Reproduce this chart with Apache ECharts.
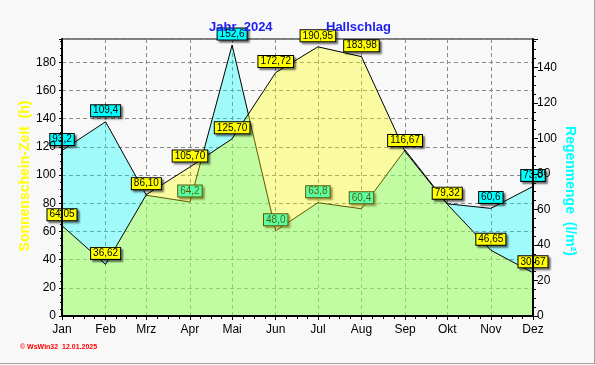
<!DOCTYPE html>
<html>
<head>
<meta charset="utf-8">
<script src="https://cdn.jsdelivr.net/npm/echarts@6/dist/echarts.min.js"></script>
<style>
  html, body { margin: 0; padding: 0; background: #f8f8f8; }
  #chart { width: 595px; height: 365px; }
</style>
</head>
<body>
<div id="chart"></div>
<script>
// ---- data ----
const months = ['2024-01-01','2024-02-01','2024-03-01','2024-04-01','2024-05-01','2024-06-01',
                '2024-07-01','2024-08-01','2024-09-01','2024-10-01','2024-11-01','2024-12-01'];
const monthLabels = ['Jan','Feb','Mrz','Apr','Mai','Jun','Jul','Aug','Sep','Okt','Nov','Dez'];
const sunshine = [64.05, 36.62, 86.10, 105.70, 125.70, 172.72, 190.95, 183.98, 116.67, 79.32, 46.65, 30.67];
const rain = [93.2, 109.4, 68.0, 64.2, 152.6, 48.0, 63.8, 60.4, 93.5, 63.2, 60.6, 73.0];
const rainLabelHidden = [2, 8, 9];
const titleLeft = 'Jahr  2024';
const titleRight = 'Hallschlag';
const leftName = 'Sonnenschein-Zeit  (h)';
const rightName = 'Regenmenge  (l/m²)';
const footer = '© WsWin32  12.01.2025';

const DAY = 86400000;
const chart = echarts.init(document.getElementById('chart'), null, { renderer: 'canvas' });

const sunData = months.map((m, i) => [m, sunshine[i]]);
const rainData = months.map((m, i) => rainLabelHidden.includes(i)
  ? { value: [m, rain[i]], label: { show: false } }
  : { value: [m, rain[i]] });

const fmt = (d) => (v) => v.value[1].toFixed(d).replace('.', ',');

const labelBase = {
  show: true, position: 'top', distance: 5,
  color: '#000', fontSize: 10, fontFamily: 'Liberation Sans, Arial, sans-serif',
  lineHeight: 11, padding: [0, 2, 0, 2],
  borderColor: '#000', borderWidth: 1,
  shadowColor: 'rgba(0,0,0,0.45)', shadowOffsetX: 2, shadowOffsetY: 2, shadowBlur: 2
};

const timeAxisBase = {
  type: 'time', position: 'bottom', min: months[0], max: months[months.length - 1],
  splitNumber: 11, minInterval: 28 * DAY, maxInterval: 31 * DAY,
  gridIndex: 0
};

const option = {
  backgroundColor: '#f8f8f8',
  animation: false,
  title: [
    { text: titleLeft, left: 204, top: 16, textStyle: { color: '#1e1ef0', fontSize: 13, fontWeight: 'bold', fontFamily: 'Liberation Sans, Arial, sans-serif' } },
    { text: titleRight, left: 321, top: 16, textStyle: { color: '#1e1ef0', fontSize: 13, fontWeight: 'bold', fontFamily: 'Liberation Sans, Arial, sans-serif' } }
  ],
  grid: { left: 62, right: 62, top: 39, bottom: 49, show: true, borderColor: '#000', borderWidth: 1, backgroundColor: 'transparent' },
  xAxis: [
    Object.assign({}, timeAxisBase, {
      axisLine: { show: false }, axisTick: { show: false }, axisLabel: { show: false },
      splitLine: { show: true, lineStyle: { color: '#888', width: 1, type: [4, 3] } }
    }),
    Object.assign({}, timeAxisBase, {
      z: 10,
      axisLine: { show: true, onZero: false, lineStyle: { color: '#000', width: 2 } },
      axisTick: { show: true, length: 4, lineStyle: { color: '#000' } },
      minorTick: { show: true, splitNumber: 4, length: 3, lineStyle: { color: '#000' } },
      axisLabel: {
        color: '#000', fontSize: 12, margin: 8, hideOverlap: false,
        showMinLabel: true, showMaxLabel: true,
        fontFamily: 'Liberation Sans, Arial, sans-serif',
        formatter: (v) => monthLabels[new Date(v).getMonth()]
      },
      splitLine: { show: false }
    })
  ],
  yAxis: [
    { type: 'value', position: 'left', min: 0, max: 196.5, interval: 20,
      axisLine: { show: false }, axisTick: { show: false }, axisLabel: { show: false },
      splitLine: { show: true, lineStyle: { color: '#888', width: 1, type: [4, 3] } } },
    { type: 'value', position: 'right', min: 0, max: 156, interval: 20,
      axisLine: { show: false }, axisTick: { show: false }, axisLabel: { show: false },
      splitLine: { show: false } },
    { type: 'value', position: 'left', min: 0, max: 196.5, interval: 20, z: 10,
      axisLine: { show: true, lineStyle: { color: '#000', width: 2 } },
      axisTick: { show: true, length: 3, lineStyle: { color: '#000' } },
      minorTick: { show: true, splitNumber: 4, length: 2, lineStyle: { color: '#000' } },
      axisLabel: { color: '#000', fontSize: 12, margin: 6, showMaxLabel: false, fontFamily: 'Liberation Sans, Arial, sans-serif' },
      splitLine: { show: false } },
    { type: 'value', position: 'right', min: 0, max: 156, interval: 20, z: 10,
      axisLine: { show: true, lineStyle: { color: '#000', width: 2 } },
      axisTick: { show: true, length: 5, lineStyle: { color: '#000' } },
      minorTick: { show: true, splitNumber: 4, length: 3, lineStyle: { color: '#000' } },
      axisLabel: { color: '#000', fontSize: 12, margin: 4, showMaxLabel: false, fontFamily: 'Liberation Sans, Arial, sans-serif' },
      splitLine: { show: false } }
  ],
  series: [
    {
      name: 'Regenmenge', type: 'line', xAxisIndex: 0, yAxisIndex: 1, z: 2,
      data: rainData, symbol: 'circle', symbolSize: 1, showSymbol: true,
      itemStyle: { color: 'rgba(0,0,0,0)' },
      lineStyle: { color: '#000', width: 1 },
      areaStyle: { color: 'rgba(0,255,255,0.5)', origin: 'start' },
      label: Object.assign({}, labelBase, { backgroundColor: '#00ffff', formatter: fmt(1) }),
      emphasis: { disabled: true }
    },
    {
      name: 'Sonnenschein', type: 'line', xAxisIndex: 0, yAxisIndex: 0, z: 3,
      data: sunData, symbol: 'circle', symbolSize: 1, showSymbol: true,
      itemStyle: { color: 'rgba(0,0,0,0)' },
      lineStyle: { color: '#000', width: 1 },
      areaStyle: { color: 'rgba(255,255,0,0.5)', origin: 'start' },
      label: Object.assign({}, labelBase, { backgroundColor: '#ffff00', formatter: fmt(2) }),
      emphasis: { disabled: true }
    }
  ],
  graphic: [
    { type: 'text', x: 25, y: 176, rotation: Math.PI / 2, z: 20,
      style: { text: leftName, fill: '#ffff00', font: 'bold 14px "Liberation Sans", Arial, sans-serif', align: 'center', verticalAlign: 'middle' } },
    { type: 'text', x: 570, y: 191, rotation: -Math.PI / 2, z: 20,
      style: { text: rightName, fill: '#00ffff', font: 'bold 14px "Liberation Sans", Arial, sans-serif', align: 'center', verticalAlign: 'middle' } },
    { type: 'text', x: 20, y: 347, z: 20,
      style: { text: footer, fill: '#ff0000', font: 'bold 7px "Liberation Sans", Arial, sans-serif', align: 'left', verticalAlign: 'middle' } },
    { type: 'line', z: 20, shape: { x1: 0, y1: 363.5, x2: 595, y2: 363.5 }, style: { stroke: '#a0a0a0', lineWidth: 1 } },
    { type: 'line', z: 20, shape: { x1: 594.5, y1: 0, x2: 594.5, y2: 364 }, style: { stroke: '#a0a0a0', lineWidth: 1 } }
  ]
};
chart.setOption(option);
</script>
</body>
</html>
